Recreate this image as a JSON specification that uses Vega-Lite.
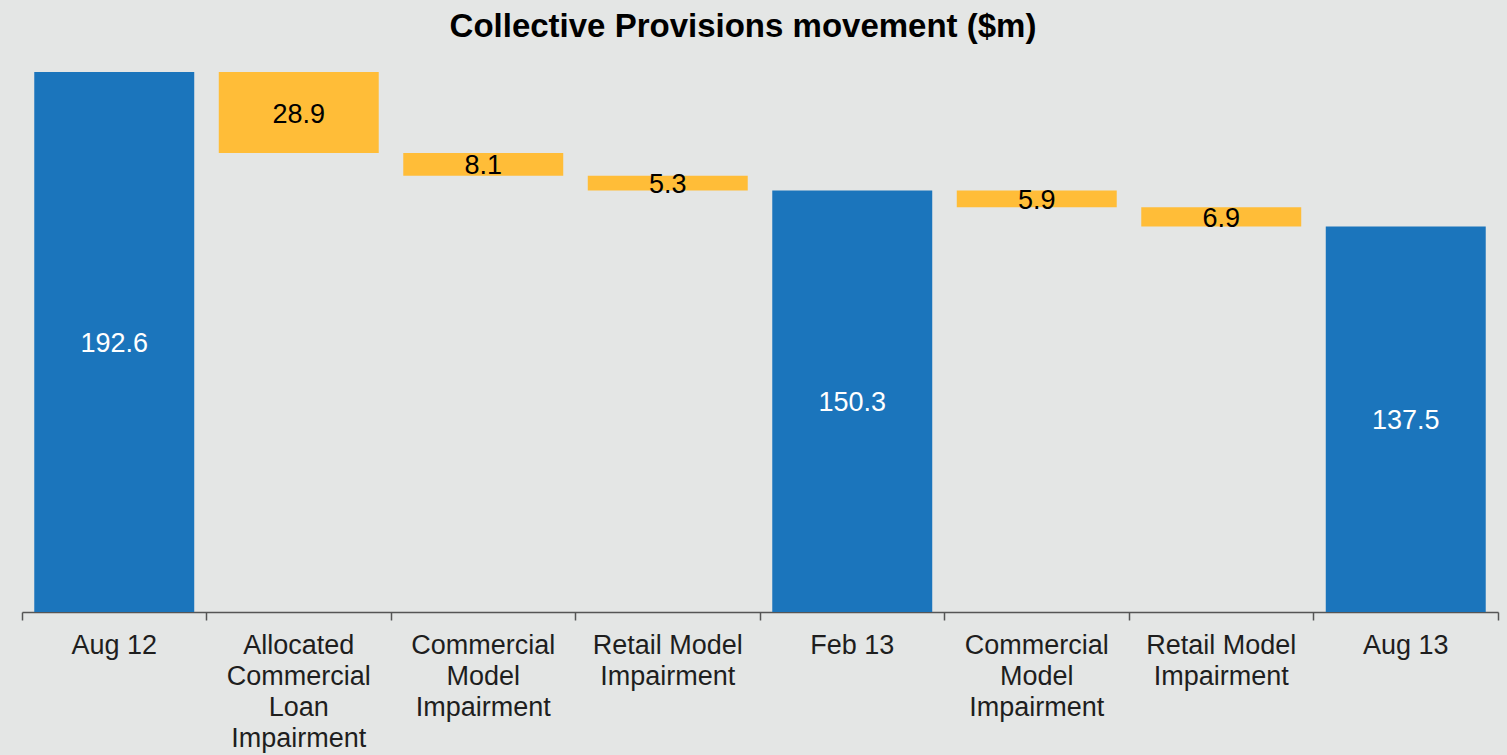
{
  "$schema": "https://vega.github.io/schema/vega-lite/v6.json",
  "width": 1476,
  "height": 540,
  "autosize": "none",
  "padding": {"left": 22, "top": 72, "right": 9, "bottom": 143},
  "background": "#e4e6e5",
  "config": {"view": {"stroke": null}, "font": "Liberation Sans"},
  "title": {
    "text": "Collective Provisions movement ($m)",
    "font": "Liberation Sans",
    "fontSize": 33,
    "fontWeight": "bold",
    "color": "#000000",
    "anchor": "middle",
    "dx": -17,
    "offset": 28
  },
  "data": {
    "values": [
      {"category": "Aug 12", "start": 0, "end": 192.6, "label": "192.6", "type": "total"},
      {"category": "Allocated\nCommercial\nLoan\nImpairment", "start": 192.6, "end": 163.7, "label": "28.9", "type": "decrease"},
      {"category": "Commercial\nModel\nImpairment", "start": 163.7, "end": 155.6, "label": "8.1", "type": "decrease"},
      {"category": "Retail Model\nImpairment", "start": 155.6, "end": 150.3, "label": "5.3", "type": "decrease"},
      {"category": "Feb 13", "start": 0, "end": 150.3, "label": "150.3", "type": "total"},
      {"category": "Commercial \nModel\nImpairment", "start": 150.3, "end": 144.4, "label": "5.9", "type": "decrease"},
      {"category": "Retail Model \nImpairment", "start": 144.4, "end": 137.5, "label": "6.9", "type": "decrease"},
      {"category": "Aug 13", "start": 0, "end": 137.5, "label": "137.5", "type": "total"}
    ]
  },
  "transform": [{"calculate": "(datum.start + datum.end) / 2", "as": "mid"}],
  "encoding": {
    "x": {
      "field": "category",
      "type": "nominal",
      "sort": null,
      "scale": {"paddingInner": 0, "paddingOuter": 0},
      "axis": {
        "title": null,
        "labelAngle": 0,
        "labelExpr": "split(datum.label, '\\n')",
        "labelFont": "Liberation Sans",
        "labelFontSize": 27,
        "labelLineHeight": 31,
        "labelColor": "#1e1e1e",
        "labelPadding": 12,
        "labelBaseline": "top",
        "labelLimit": 0,
        "domainColor": "#555555",
        "domainWidth": 1.5,
        "tickColor": "#555555",
        "tickWidth": 1.5,
        "tickSize": 8,
        "bandPosition": 1,
        "tickExtra": true,
        "grid": false
      }
    }
  },
  "layer": [
    {
      "mark": {"type": "bar", "width": {"band": 0.867}},
      "encoding": {
        "y": {"field": "start", "type": "quantitative", "scale": {"domain": [0, 192.6], "nice": false, "zero": true}, "axis": null},
        "y2": {"field": "end"},
        "color": {
          "field": "type",
          "type": "nominal",
          "scale": {"domain": ["total", "decrease"], "range": ["#1b75bc", "#ffbd38"]},
          "legend": null
        }
      }
    },
    {
      "mark": {"type": "text", "font": "Liberation Sans", "fontSize": 27, "baseline": "middle", "align": "center", "dy": 2},
      "encoding": {
        "y": {"field": "mid", "type": "quantitative"},
        "text": {"field": "label"},
        "color": {"condition": {"test": "datum.type === 'total'", "value": "#ffffff"}, "value": "#000000"}
      }
    }
  ]
}
